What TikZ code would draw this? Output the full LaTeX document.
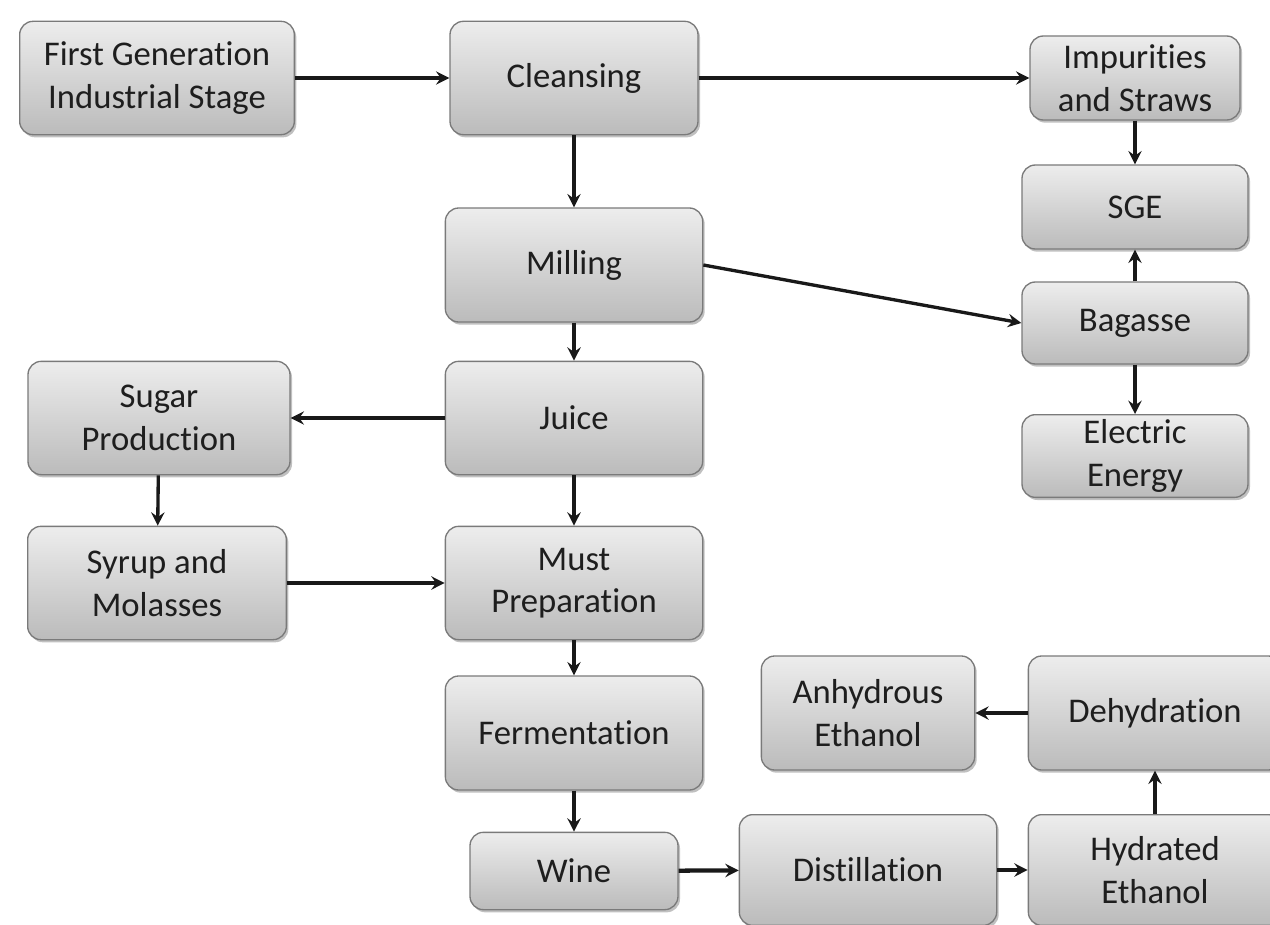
\documentclass[tikz,border=0pt]{standalone}
\usepackage{fontspec}
\setmainfont{Carlito}[Ligatures=NoCommon]
\usetikzlibrary{shadows,arrows.meta}
\definecolor{boxtop}{HTML}{EDEDED}
\definecolor{boxbot}{HTML}{BBBBBB}
\definecolor{boxline}{HTML}{7A7A7A}
\definecolor{txt}{HTML}{1E1E1E}
\begin{document}
\begin{tikzpicture}[x=0.75pt,y=-0.75pt,
  box/.style={rectangle, rounded corners=10pt, draw=boxline, line width=1pt,
    top color=boxtop, bottom color=boxbot, text=txt, align=center,
    font=\fontsize{26}{32}\selectfont, inner sep=0pt,
    drop shadow={shadow xshift=1.5pt, shadow yshift=-2pt, opacity=0.35, fill=black!70}},
  arr/.style={-{Stealth[length=10pt,width=10pt,inset=3.5pt]}, line width=2.5pt, black!90}]
\useasboundingbox (0,0) rectangle (1270,924);
\fill[white] (0,0) rectangle (1270,924);
\clip (0,0) rectangle (1270,924);
\node[box, minimum width=206pt, minimum height=85pt] (first) at (157,78) {First Generation\\Industrial Stage};
\node[box, minimum width=186pt, minimum height=85pt] (clean) at (574,78) {Cleansing};
\node[box, minimum width=157.5pt, minimum height=63pt] (imp) at (1135,78) {Impurities\\and Straws};
\node[box, minimum width=169.5pt, minimum height=63pt] (sge) at (1135,207) {SGE};
\node[box, minimum width=169.5pt, minimum height=61.5pt] (bag) at (1135,323) {Bagasse};
\node[box, minimum width=169.5pt, minimum height=62pt] (elec) at (1135,456) {Electric\\Energy};
\node[box, minimum width=193pt, minimum height=85.5pt] (mill) at (574,265) {Milling};
\node[box, minimum width=193pt, minimum height=85pt] (juice) at (574,418) {Juice};
\node[box, minimum width=196.5pt, minimum height=85pt] (sugar) at (159,418) {Sugar\\Production};
\node[box, minimum width=194pt, minimum height=85pt] (syrup) at (157,583) {Syrup and\\Molasses};
\node[box, minimum width=193pt, minimum height=85pt] (must) at (574,583) {Must\\Preparation};
\node[box, minimum width=193pt, minimum height=85.5pt] (ferm) at (574,733) {Fermentation};
\node[box, minimum width=156pt, minimum height=58pt] (wine) at (574,871) {Wine};
\node[box, minimum width=193pt, minimum height=83pt] (dist) at (868,870) {Distillation};
\node[box, minimum width=190pt, minimum height=83pt] (hyd) at (1155,870) {Hydrated\\Ethanol};
\node[box, minimum width=160pt, minimum height=85.5pt] (anh) at (868,713) {Anhydrous\\Ethanol};
\node[box, minimum width=190pt, minimum height=85.5pt] (deh) at (1155,713) {Dehydration};
\draw[arr] (first) -- (clean);
\draw[arr] (clean) -- (imp);
\draw[arr] (clean) -- (mill);
\draw[arr] (imp) -- (sge);
\draw[arr] (mill.east) -- (bag.west);
\draw[arr] (bag) -- (sge);
\draw[arr] (bag) -- (elec);
\draw[arr] (mill) -- (juice);
\draw[arr] (juice) -- (sugar);
\draw[arr] (sugar) -- (syrup);
\draw[arr] (juice) -- (must);
\draw[arr] (syrup) -- (must);
\draw[arr] (must) -- (ferm);
\draw[arr] (ferm) -- (wine);
\draw[arr, line width=3.2pt] (wine) -- (dist);
\draw[arr, line width=3.2pt] (dist) -- (hyd);
\draw[arr] (hyd) -- (deh);
\draw[arr, line width=3.5pt] (deh) -- (anh);
\end{tikzpicture}
\end{document}
